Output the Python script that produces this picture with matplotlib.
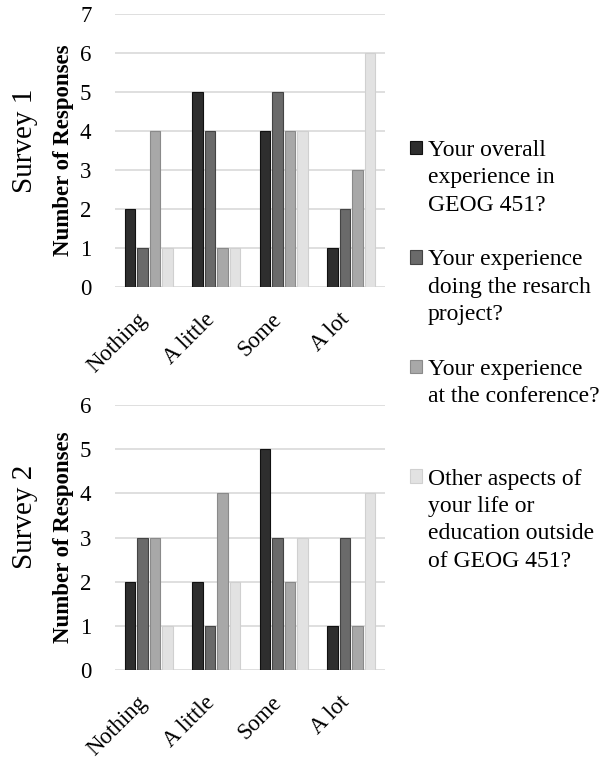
import numpy as np
import matplotlib.pyplot as plt
import matplotlib.transforms as mtransforms
from matplotlib.patches import Patch

plt.rcParams['font.family'] = ['Liberation Serif', 'DejaVu Serif']

categories = ['Nothing', 'A little', 'Some', 'A lot']
series_labels = [['Your overall', 'experience in', 'GEOG 451?'],
                 ['Your experience', 'doing the resarch', 'project?'],
                 ['Your experience', 'at the conference?'],
                 ['Other aspects of', 'your life or', 'education outside',
                  'of GEOG 451?']]
survey1 = [[2, 5, 4, 1],
           [1, 4, 5, 2],
           [4, 1, 4, 3],
           [1, 1, 4, 6]]
survey2 = [[2, 2, 5, 1],
           [3, 1, 3, 3],
           [3, 4, 2, 1],
           [1, 2, 3, 4]]
colors = ['#2e2e2e', '#6a6a6a', '#a8a8a8', '#e2e2e2']
edges = ['#111111', '#444444', '#8a8a8a', '#d0d0d0']

fig = plt.figure(figsize=(6.04, 7.59), dpi=100)
ax1 = fig.add_axes([115/604, 1-287/759, 270/604, 273/759])
ax2 = fig.add_axes([115/604, 1-670/759, 270/604, 265/759])

x = np.arange(len(categories))
step = 0.187
width = 0.155

def draw(ax, data, ymax, title, ty):
    bars = []
    for i, vals in enumerate(data):
        b = ax.bar(x + (i - 1.5) * step, vals, width, color=colors[i],
                   edgecolor=edges[i], linewidth=0.8, zorder=3)
        bars.append(b)
    ax.set_xlim(-0.5, 3.5)
    ax.set_ylim(0, ymax)
    ax.set_yticks(range(ymax + 1))
    ax.yaxis.grid(True, color='#d9d9d9', linewidth=1.2, zorder=0)
    for s in ax.spines.values():
        s.set_visible(False)
    ax.tick_params(length=0, labelsize=16.5, pad=17)
    ax.set_xticks(x)
    ax.set_xticklabels(categories, rotation=45, ha='right', va='center',
                       rotation_mode='anchor', fontsize=16.5)
    ax.tick_params(axis='x', pad=21)
    shift = mtransforms.ScaledTranslation(-0.05, 0, fig.dpi_scale_trans)
    for lab in ax.get_xticklabels():
        lab.set_transform(lab.get_transform() + shift)
    ax.set_ylabel('Number of Responses', fontsize=16.5, fontweight='bold',
                  labelpad=4)
    ax.text(-0.335, ty, title, transform=ax.transAxes, rotation=90,
            fontsize=21, va='center', ha='center')
    return bars

bars = draw(ax1, survey1, 7, 'Survey 1', 0.535)
draw(ax2, survey2, 6, 'Survey 2', 0.577)

# legend rows: square only on the first line, each entry padded to 4 lines
blank = Patch(facecolor='none', edgecolor='none')
handles, labels = [], []
for b, lines in zip(bars, series_labels):
    for j in range(4):
        handles.append(b if j == 0 else blank)
        labels.append(lines[j] if j < len(lines) else ' ')

fig.legend(handles, labels, loc='upper left',
           bbox_to_anchor=(410/604, 1-140/759), frameon=False,
           fontsize=17, labelspacing=0.27, handlelength=0.5,
           handleheight=0.5, handletextpad=0.25, borderpad=0,
           borderaxespad=0)

fig.savefig('out.png', dpi=100)
